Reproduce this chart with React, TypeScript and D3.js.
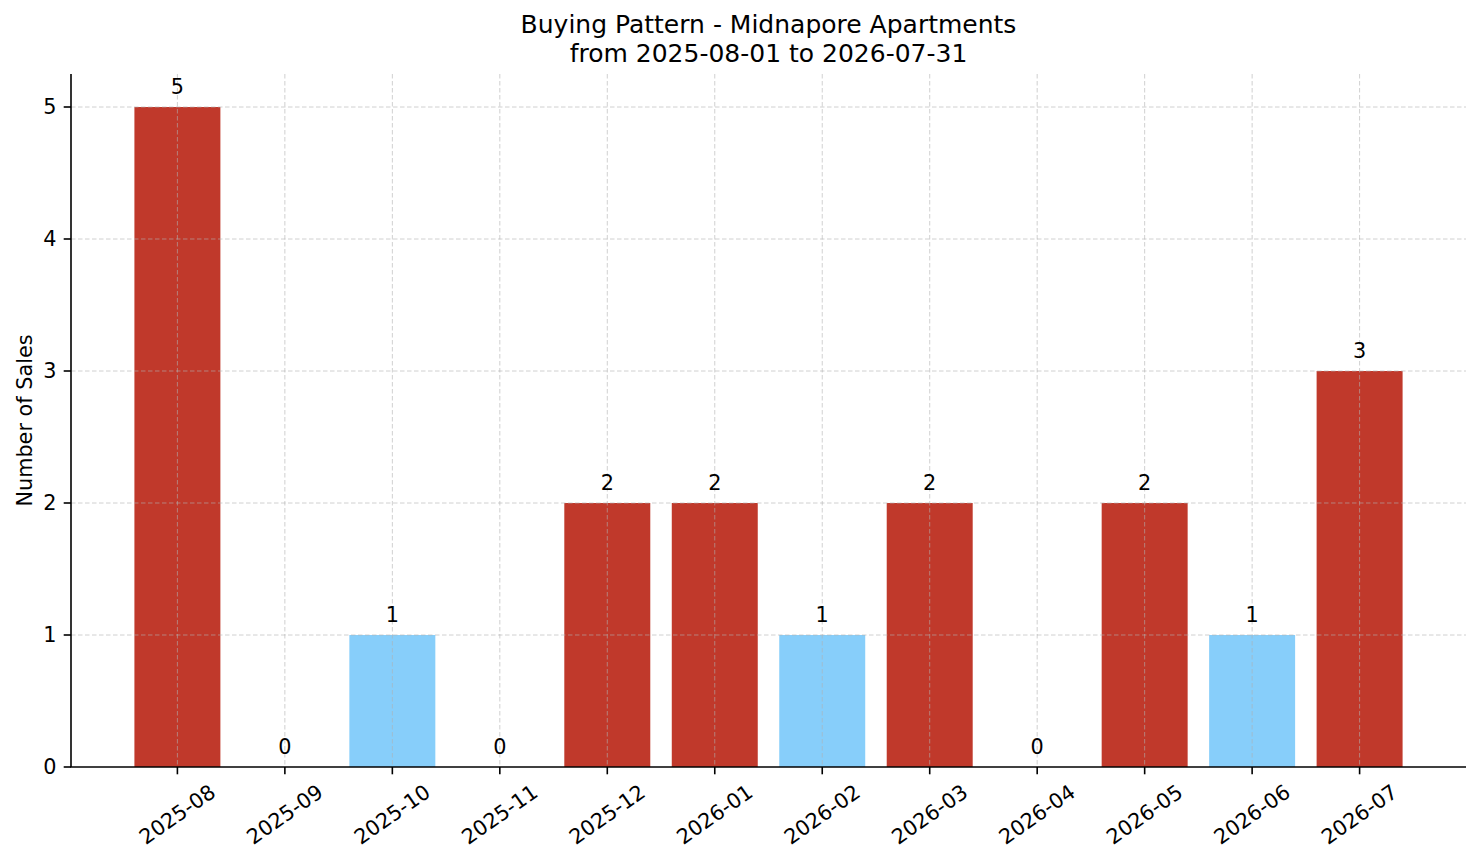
import React from "react";
import * as d3 from "d3";

const months = [
  "2025-08", "2025-09", "2025-10", "2025-11", "2025-12", "2026-01",
  "2026-02", "2026-03", "2026-04", "2026-05", "2026-06", "2026-07",
];
const sales = [5, 0, 1, 0, 2, 2, 1, 2, 0, 2, 1, 3];
const yTicks = [0, 1, 2, 3, 4, 5];
const titleLines = ["Buying Pattern - Midnapore Apartments", "from 2025-08-01 to 2026-07-31"];
const yLabel = "Number of Sales";

const W = 1481;
const H = 863;
const margin = { left: 71, right: 15, top: 74, bottom: 96 };
const FONT = "'DejaVu Sans', sans-serif";
const RED = "#c0392b";
const BLUE = "#87cefa";

export default function App() {
  const n = months.length;
  const barW = 0.8;
  const span = n - 1 + barW;
  const x = d3
    .scaleLinear()
    .domain([-barW / 2 - 0.05 * span, n - 1 + barW / 2 + 0.05 * span])
    .range([margin.left, W - margin.right]);
  const yMax = (d3.max(sales) as number) * 1.05;
  const y = d3.scaleLinear().domain([0, yMax]).range([H - margin.bottom, margin.top]);
  const mean = d3.mean(sales) as number;
  const x0 = margin.left;
  const x1 = W - margin.right;
  const yb = H - margin.bottom;
  const fs = 20.8;

  return (
    <svg
      width={W}
      height={H}
      style={{ position: "absolute", left: 0, top: 0, background: "#fff" }}
      fontFamily={FONT}
    >
      <rect x={0} y={0} width={W} height={H} fill="#fff" />
      {/* bars */}
      {sales.map((v, i) => (
        <rect
          key={"b" + i}
          x={x(i - barW / 2)}
          y={y(v)}
          width={x(barW) - x(0)}
          height={yb - y(v)}
          fill={v > mean ? RED : BLUE}
        />
      ))}
      {/* grid */}
      <g stroke="#b0b0b0" strokeOpacity={0.6} strokeWidth={1} strokeDasharray="4.5,2.5">
        {yTicks.filter((t) => t > 0).map((t) => (
          <line key={"gy" + t} x1={x0} x2={x1} y1={y(t)} y2={y(t)} />
        ))}
        {months.map((m, i) => (
          <line key={"gx" + m} x1={x(i)} x2={x(i)} y1={margin.top} y2={yb} />
        ))}
      </g>
      {/* bar labels */}
      {sales.map((v, i) => (
        <text
          key={"l" + i}
          x={x(i)}
          y={y(v) - 13}
          textAnchor="middle"
          fontSize={fs}
          fill="#000"
        >
          {v}
        </text>
      ))}
      {/* axes */}
      <line x1={x0} x2={x0} y1={margin.top} y2={yb} stroke="#000" strokeWidth={1.6} />
      <line x1={x0 - 0.8} x2={x1} y1={yb} y2={yb} stroke="#000" strokeWidth={1.6} />
      {yTicks.map((t) => (
        <g key={"yt" + t}>
          <line x1={x0 - 7.3} x2={x0} y1={y(t)} y2={y(t)} stroke="#000" strokeWidth={1.6} />
          <text
            x={x0 - 14.5}
            y={y(t)}
            textAnchor="end"
            dominantBaseline="central"
            fontSize={fs}
            fill="#000"
          >
            {t}
          </text>
        </g>
      ))}
      {months.map((m, i) => (
        <g key={"xt" + m}>
          <line x1={x(i)} x2={x(i)} y1={yb} y2={yb + 7.3} stroke="#000" strokeWidth={1.6} />
          <text
            transform={`translate(${x(i)},${yb + 47.5}) rotate(-35)`}
            textAnchor="middle"
            dominantBaseline="central"
            fontSize={fs}
            fill="#000"
          >
            {m}
          </text>
        </g>
      ))}
      {/* y label */}
      <text
        transform={`translate(32,${(margin.top + yb) / 2}) rotate(-90)`}
        textAnchor="middle"
        fontSize={fs}
        fill="#000"
      >
        {yLabel}
      </text>
      {/* title */}
      {titleLines.map((t, k) => (
        <text
          key={"t" + k}
          x={(x0 + x1) / 2}
          y={33 + k * 29}
          textAnchor="middle"
          fontSize={25}
          fill="#000"
        >
          {t}
        </text>
      ))}
    </svg>
  );
}
